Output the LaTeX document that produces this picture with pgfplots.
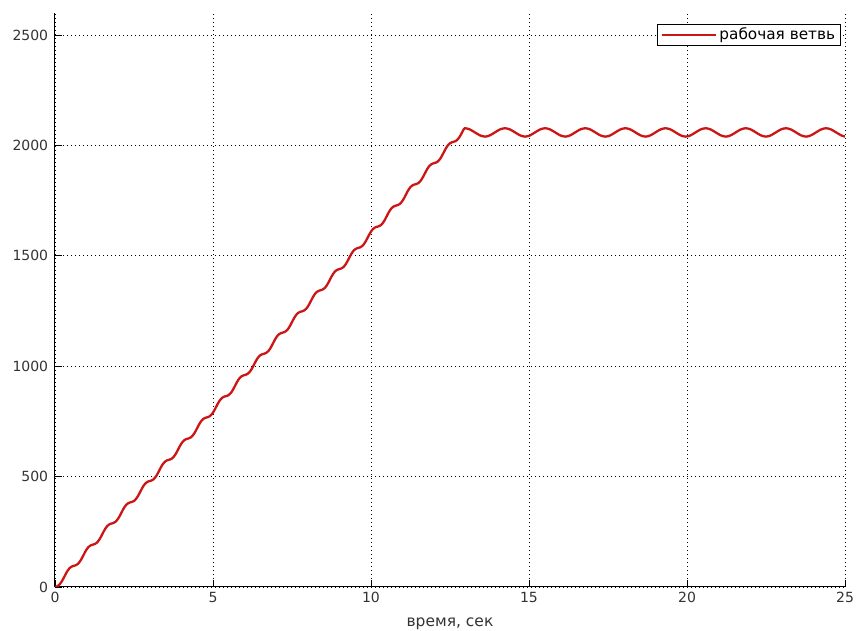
\documentclass[border=0pt]{standalone}
\usepackage{fontspec}
\setmainfont{DejaVu Sans}
\usepackage{pgfplots}
\pgfplotsset{compat=1.18}
\usetikzlibrary{calc}
\definecolor{mlred}{RGB}{204,22,22}
\begin{document}
\fontsize{14}{16}\selectfont
\begin{tikzpicture}
\begin{axis}[
  name=ax, scale only axis, width=790pt, height=574pt,
  xmin=0, xmax=25, ymin=0, ymax=2600,
  axis x line=bottom, axis y line=left,
  axis line style={-, black, line width=1pt},
  xtick={0,5,...,25}, ytick={0,500,...,2500},
  tick align=inside, major tick length=7pt,
  tick style={black, line width=0.8pt},
  grid=major,
  major grid style={black, line width=0.8pt, dash pattern=on 0.8pt off 3.2pt},
  tick label style={font=\fontsize{14}{16}\selectfont, text=black!80},
  yticklabel style={xshift=-2pt},
  /pgf/number format/assume math mode=true,
  /pgf/number format/1000 sep={},
  xlabel={время, сек},
  xlabel style={font=\fontsize{15.5}{17}\selectfont, text=black!80, yshift=-6pt},
  legend style={at={(0.995,0.981)}, anchor=north east, draw=black,
    line width=0.8pt, font=\fontsize{15.3}{17}\selectfont, inner xsep=3.5pt, inner ysep=1.5pt},
  legend cell align=left,
  legend image code/.code={\draw[#1] (0pt,0pt) -- (54pt,0pt);},
]
\addplot[mlred, line width=2.3pt, smooth] coordinates {
(0,0) (0.05,2.2) (0.1,6.0) (0.15,12.5) (0.2,22.0) (0.25,34.2) (0.3,48) (0.35,61.8) (0.4,74.0) (0.45,83.5) (0.5,90.0) (0.55,93.8)
(0.6,96) (0.65,98.2) (0.7,102.0) (0.75,108.5) (0.8,118.0) (0.85,130.2) (0.9,144) (0.95,157.8) (1.0,170.0) (1.05,179.5) (1.1,186.0) (1.15,189.8)
(1.2,192) (1.25,194.2) (1.3,198.0) (1.35,204.5) (1.4,214.0) (1.45,226.2) (1.5,240) (1.55,253.8) (1.6,266.0) (1.65,275.5) (1.7,282.0) (1.75,285.8)
(1.8,288) (1.85,290.2) (1.9,294.0) (1.95,300.5) (2.0,310.0) (2.05,322.2) (2.1,336) (2.15,349.8) (2.2,362.0) (2.25,371.5) (2.3,378.0) (2.35,381.8)
(2.4,384) (2.45,386.2) (2.5,390.0) (2.55,396.5) (2.6,406.0) (2.65,418.2) (2.7,432) (2.75,445.8) (2.8,458.0) (2.85,467.5) (2.9,474.0) (2.95,477.8)
(3.0,480) (3.05,482.2) (3.1,486.0) (3.15,492.5) (3.2,502.0) (3.25,514.2) (3.3,528) (3.35,541.8) (3.4,554.0) (3.45,563.5) (3.5,570.0) (3.55,573.8)
(3.6,576) (3.65,578.2) (3.7,582.0) (3.75,588.5) (3.8,598.0) (3.85,610.2) (3.9,624) (3.95,637.8) (4.0,650.0) (4.05,659.5) (4.1,666.0) (4.15,669.8)
(4.2,672) (4.25,674.2) (4.3,678.0) (4.35,684.5) (4.4,694.0) (4.45,706.2) (4.5,720) (4.55,733.8) (4.6,746.0) (4.65,755.5) (4.7,762.0) (4.75,765.8)
(4.8,768) (4.85,770.2) (4.9,774.0) (4.95,780.5) (5.0,790.0) (5.05,802.2) (5.1,816) (5.15,829.8) (5.2,842.0) (5.25,851.5) (5.3,858.0) (5.35,861.8)
(5.4,864) (5.45,866.2) (5.5,870.0) (5.55,876.5) (5.6,886.0) (5.65,898.2) (5.7,912) (5.75,925.8) (5.8,938.0) (5.85,947.5) (5.9,954.0) (5.95,957.8)
(6.0,960) (6.05,962.2) (6.1,966.0) (6.15,972.5) (6.2,982.0) (6.25,994.2) (6.3,1008) (6.35,1021.8) (6.4,1034.0) (6.45,1043.5) (6.5,1050.0) (6.55,1053.8)
(6.6,1056) (6.65,1058.2) (6.7,1062.0) (6.75,1068.5) (6.8,1078.0) (6.85,1090.2) (6.9,1104) (6.95,1117.8) (7.0,1130.0) (7.05,1139.5) (7.1,1146.0) (7.15,1149.8)
(7.2,1152) (7.25,1154.2) (7.3,1158.0) (7.35,1164.5) (7.4,1174.0) (7.45,1186.2) (7.5,1200) (7.55,1213.8) (7.6,1226.0) (7.65,1235.5) (7.7,1242.0) (7.75,1245.8)
(7.8,1248) (7.85,1250.2) (7.9,1254.0) (7.95,1260.5) (8.0,1270.0) (8.05,1282.2) (8.1,1296) (8.15,1309.8) (8.2,1322.0) (8.25,1331.5) (8.3,1338.0) (8.35,1341.8)
(8.4,1344) (8.45,1346.2) (8.5,1350.0) (8.55,1356.5) (8.6,1366.0) (8.65,1378.2) (8.7,1392) (8.75,1405.8) (8.8,1418.0) (8.85,1427.5) (8.9,1434.0) (8.95,1437.8)
(9.0,1440) (9.05,1442.2) (9.1,1446.0) (9.15,1452.5) (9.2,1462.0) (9.25,1474.2) (9.3,1488) (9.35,1501.8) (9.4,1514.0) (9.45,1523.5) (9.5,1530.0) (9.55,1533.8)
(9.6,1536) (9.65,1538.2) (9.7,1542.0) (9.75,1548.5) (9.8,1558.0) (9.85,1570.2) (9.9,1584) (9.95,1597.8) (10.0,1610.0) (10.05,1619.5) (10.1,1626.0) (10.15,1629.8)
(10.2,1632) (10.25,1634.2) (10.3,1638.0) (10.35,1644.5) (10.4,1654.0) (10.45,1666.2) (10.5,1680) (10.55,1693.8) (10.6,1706.0) (10.65,1715.5) (10.7,1722.0) (10.75,1725.8)
(10.8,1728) (10.85,1730.2) (10.9,1734.0) (10.95,1740.5) (11.0,1750.0) (11.05,1762.2) (11.1,1776) (11.15,1789.8) (11.2,1802.0) (11.25,1811.5) (11.3,1818.0) (11.35,1821.8)
(11.4,1824) (11.45,1826.2) (11.5,1830.0) (11.55,1836.5) (11.6,1846.0) (11.65,1858.2) (11.7,1872) (11.75,1885.8) (11.8,1898.0) (11.85,1907.5) (11.9,1914.0) (11.95,1917.8)
(12.0,1920) (12.05,1922.2) (12.1,1926.0) (12.15,1932.5) (12.2,1942.0) (12.25,1954.2) (12.3,1968) (12.35,1981.8) (12.4,1994.0) (12.45,2003.5) (12.5,2010.0) (12.55,2013.8)
(12.6,2016) (12.65,2018.2) (12.7,2022.0) (12.75,2028.5) (12.8,2038.0) (12.85,2050.2) (12.9,2064)
(12.97,2078) (13.13,2072.4) (13.29,2059) (13.45,2045.6) (13.61,2040) (13.76,2045.6) (13.92,2059) (14.08,2072.4)
(14.24,2078) (14.40,2072.4) (14.56,2059) (14.72,2045.6) (14.88,2040) (15.03,2045.6) (15.19,2059) (15.35,2072.4)
(15.51,2078) (15.67,2072.4) (15.83,2059) (15.99,2045.6) (16.15,2040) (16.30,2045.6) (16.46,2059) (16.62,2072.4)
(16.78,2078) (16.94,2072.4) (17.10,2059) (17.26,2045.6) (17.42,2040) (17.57,2045.6) (17.73,2059) (17.89,2072.4)
(18.05,2078) (18.21,2072.4) (18.37,2059) (18.53,2045.6) (18.69,2040) (18.84,2045.6) (19.00,2059) (19.16,2072.4)
(19.32,2078) (19.48,2072.4) (19.64,2059) (19.80,2045.6) (19.96,2040) (20.11,2045.6) (20.27,2059) (20.43,2072.4)
(20.59,2078) (20.75,2072.4) (20.91,2059) (21.07,2045.6) (21.23,2040) (21.38,2045.6) (21.54,2059) (21.70,2072.4)
(21.86,2078) (22.02,2072.4) (22.18,2059) (22.34,2045.6) (22.50,2040) (22.65,2045.6) (22.81,2059) (22.97,2072.4)
(23.13,2078) (23.29,2072.4) (23.45,2059) (23.61,2045.6) (23.77,2040) (23.92,2045.6) (24.08,2059) (24.24,2072.4)
(24.40,2078) (24.56,2072.4) (24.72,2059) (24.88,2045.6) (25.00,2040.5)
};
\addlegendentry{рабочая ветвь}
\end{axis}
\pgfresetboundingbox
\path[use as bounding box] ($(ax.south west)+(-55pt,-44pt)$) rectangle ($(ax.north east)+(17pt,13pt)$);
\end{tikzpicture}
\end{document}
